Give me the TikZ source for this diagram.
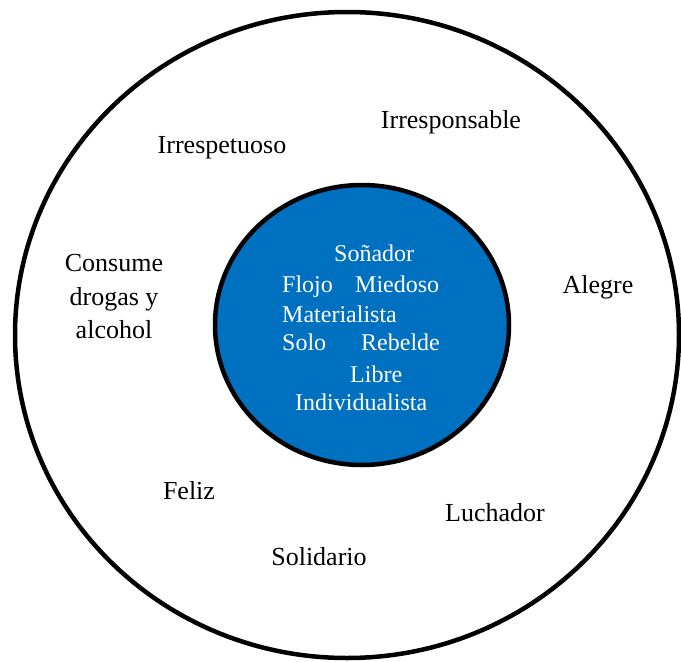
\documentclass[tikz,border=0pt]{standalone}
\usepackage{fontspec}
\setmainfont{Liberation Serif}
\definecolor{coreblue}{RGB}{0,112,192}
\tikzset{
  ring/.style={draw=black, line width=4.5pt},
  outerword/.style={anchor=base, inner sep=0pt, font=\fontsize{26}{33}\selectfont, text=black},
  innerword/.style={anchor=base west, inner sep=0pt, font=\fontsize{24}{30}\selectfont, text=white}
}
\begin{document}
\begin{tikzpicture}[x=1pt, y=-1pt]
  \useasboundingbox (0,0) rectangle (681,662);
  % outer ring and filled core
  \draw[ring] (347,335) ellipse [x radius=332, y radius=323];
  \draw[ring, fill=coreblue] (362,325) ellipse [x radius=147, y radius=140];

  % words around the core
  \node[outerword] (irrespetuoso) at (222,153) {Irrespetuoso};
  \node[outerword] (irresponsable) at (451,128) {Irresponsable};
  \node[outerword] (consume1) at (114,271) {Consume};
  \node[outerword] (consume2) at (114,305) {drogas y};
  \node[outerword] (consume3) at (114,338) {alcohol};
  \node[outerword] (alegre) at (598,293) {Alegre};
  \node[outerword] (feliz) at (189,499) {Feliz};
  \node[outerword] (luchador) at (495,521) {Luchador};
  \node[outerword] (solidario) at (319,565) {Solidario};

  % words inside the core
  \node[innerword] (sonador) at (334,261) {Soñador};
  \node[innerword] (flojo) at (282,292) {Flojo};
  \node[innerword] (miedoso) at (355,292) {Miedoso};
  \node[innerword] (materialista) at (282,322) {Materialista};
  \node[innerword] (solo) at (282,350) {Solo};
  \node[innerword] (rebelde) at (361,350) {Rebelde};
  \node[innerword] (libre) at (350,382) {Libre};
  \node[innerword] (individualista) at (295,410) {Individualista};
\end{tikzpicture}
\end{document}
